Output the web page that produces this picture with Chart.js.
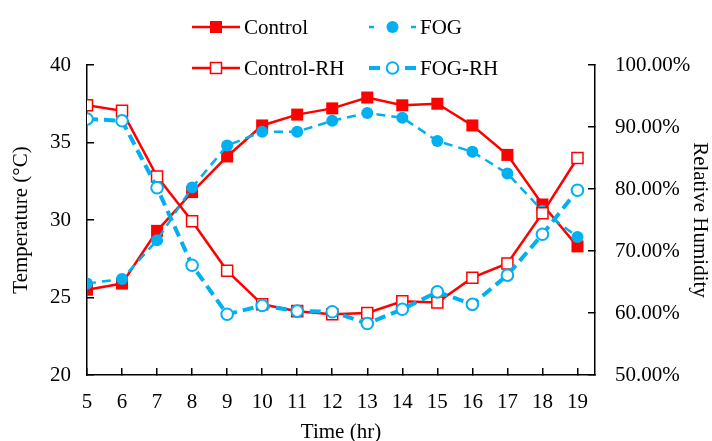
<!DOCTYPE html>
<html>
<head>
<meta charset="utf-8">
<script src="https://cdn.jsdelivr.net/npm/chart.js@4.4.1/dist/chart.umd.min.js"></script>
<style>
  body { margin: 0; background: #fff; }
  #wrap { width: 712px; height: 441px; }
</style>
</head>
<body>
<div id="wrap"><canvas id="chart" width="712" height="441"></canvas></div>
<script>
// Hours of the day (x axis)
const hours = [5, 6, 7, 8, 9, 10, 11, 12, 13, 14, 15, 16, 17, 18, 19];

// Temperature (°C), left axis
const controlTemp = [25.5, 25.9, 29.3, 31.8, 34.1, 36.1, 36.8, 37.2, 37.9, 37.4, 37.5, 36.1, 34.2, 31.0, 28.3];
const fogTemp = [25.9, 26.2, 28.7, 32.1, 34.8, 35.7, 35.7, 36.4, 36.9, 36.6, 35.1, 34.4, 33.0, 30.6, 28.9];

// Relative humidity (%), right axis
const controlRH = [93.5, 92.6, 82.0, 74.8, 66.8, 61.4, 60.3, 59.8, 60.0, 61.9, 61.7, 65.7, 68.0, 76.1, 85.0];
const fogRH = [91.3, 91.0, 80.2, 67.7, 59.8, 61.2, 60.3, 60.2, 58.3, 60.6, 63.4, 61.4, 66.1, 72.7, 79.8];

const RED = '#FF0000';
const BLUE = '#00B0F0';
const FONT = 'Liberation Serif, Times New Roman, serif';

const toPoints = (values) => values.map((v, i) => ({ x: hours[i], y: v }));

const datasets = [
  {
    label: 'Control', data: toPoints(controlTemp), yAxisID: 'yT', order: 4,
    borderColor: RED, backgroundColor: RED, borderWidth: 2.5,
    pointStyle: 'rect', pointRadius: 8.5, pointBorderWidth: 0, pointBackgroundColor: RED,
  },
  {
    label: 'FOG', data: toPoints(fogTemp), yAxisID: 'yT', order: 3,
    borderColor: BLUE, backgroundColor: BLUE, borderWidth: 2.5, borderDash: [9, 6],
    pointStyle: 'circle', pointRadius: 6, pointBorderWidth: 0, pointBackgroundColor: BLUE,
  },
  {
    label: 'Control-RH', data: toPoints(controlRH), yAxisID: 'yRH', order: 2,
    borderColor: RED, backgroundColor: '#fff', borderWidth: 2.5,
    pointStyle: 'rect', pointRadius: 7.8, pointBorderWidth: 1.5,
    pointBorderColor: RED, pointBackgroundColor: '#fff',
  },
  {
    label: 'FOG-RH', data: toPoints(fogRH), yAxisID: 'yRH', order: 1,
    borderColor: BLUE, backgroundColor: '#fff', borderWidth: 4, borderDash: [11, 6],
    pointStyle: 'circle', pointRadius: 5.8, pointBorderWidth: 2,
    pointBorderColor: BLUE, pointBackgroundColor: '#fff',
  },
];

// Two-column legend like the original: left edge, row, dash stub length
const legendSlots = [
  { x: 192, y: 27, stub: 0 }, { x: 369, y: 27, stub: 5 },
  { x: 192, y: 68, stub: 0 }, { x: 369, y: 68, stub: 11 },
];

const columnLegend = {
  id: 'columnLegend',
  afterDraw(chart) {
    const ctx = chart.ctx;
    chart.data.datasets.forEach((ds, i) => {
      const { x, y, stub } = legendSlots[i];
      const w = stub ? 47 : 48;
      ctx.save();
      ctx.strokeStyle = ds.borderColor;
      ctx.lineWidth = ds.borderWidth;
      ctx.beginPath();
      if (stub) {
        ctx.moveTo(x, y); ctx.lineTo(x + stub, y);
        ctx.moveTo(x + w - stub, y); ctx.lineTo(x + w, y);
      } else {
        ctx.moveTo(x, y); ctx.lineTo(x + w, y);
      }
      ctx.stroke();
      ctx.fillStyle = ds.pointBackgroundColor;
      ctx.strokeStyle = ds.pointBorderColor || ds.borderColor;
      ctx.lineWidth = ds.pointBorderWidth;
      ctx.beginPath();
      if (ds.pointStyle === 'rect') {
        const s = ds.pointRadius / Math.SQRT2;
        ctx.rect(x + w / 2 - s, y - s, 2 * s, 2 * s);
      } else {
        ctx.arc(x + w / 2, y, ds.pointRadius, 0, Math.PI * 2);
      }
      ctx.fill();
      if (ds.pointBorderWidth) ctx.stroke();
      ctx.fillStyle = '#000';
      ctx.font = '21px ' + FONT;
      ctx.textBaseline = 'middle';
      ctx.fillText(ds.label, x + w + 4, y + 1);
      ctx.restore();
    });
  }
};

const axisColor = '#000';

new Chart(document.getElementById('chart'), {
  type: 'line',
  data: { datasets },
  plugins: [columnLegend],
  options: {
    responsive: false,
    animation: false,
    layout: { padding: { top: 65, left: 0, right: 0, bottom: 0 } },
    plugins: { legend: { display: false }, tooltip: { enabled: false } },
    scales: {
      x: {
        type: 'linear', min: 5, max: 19.5,
        afterBuildTicks: (scale) => { scale.ticks = hours.map(h => ({ value: h })); },
        afterFit: (scale) => { scale.height = 66; },
        border: { color: axisColor, width: 1.5 },
        // negative tick length puts the tick marks inside the plot, as in Excel
        grid: { drawOnChartArea: false, color: axisColor, lineWidth: 1.5, tickLength: -7 },
        ticks: { color: '#000', font: { family: FONT, size: 21 }, padding: 21.5, maxRotation: 0 },
        title: {
          display: true, text: 'Time (hr)', color: '#000',
          font: { family: FONT, size: 21, lineHeight: 1 }, padding: { top: 0, bottom: -1.5 },
        },
      },
      yT: {
        position: 'left', min: 20, max: 40,
        afterFit: (scale) => { scale.width = 87; },
        border: { color: axisColor, width: 1.5 },
        grid: { drawOnChartArea: false, color: axisColor, lineWidth: 1.5, tickLength: -7 },
        ticks: { stepSize: 5, color: '#000', font: { family: FONT, size: 21 }, padding: 23 },
        title: {
          display: true, text: 'Temperature (°C)', color: '#000',
          font: { family: FONT, size: 21, lineHeight: 1 }, padding: { top: 11, bottom: 0 },
        },
      },
      yRH: {
        position: 'right', min: 50, max: 100,
        afterFit: (scale) => { scale.width = 117; },
        border: { color: axisColor, width: 1.5 },
        grid: { drawOnChartArea: false, color: axisColor, lineWidth: 1.5, tickLength: -7 },
        ticks: {
          stepSize: 10, color: '#000', font: { family: FONT, size: 21 }, padding: 27,
          callback: (v) => v.toFixed(2) + '%',
        },
        title: {
          display: true, text: 'Relative Humidity', color: '#000',
          font: { family: FONT, size: 21, lineHeight: 1 }, padding: { top: 2, bottom: 0 },
        },
      },
    },
  },
});
</script>
</body>
</html>
